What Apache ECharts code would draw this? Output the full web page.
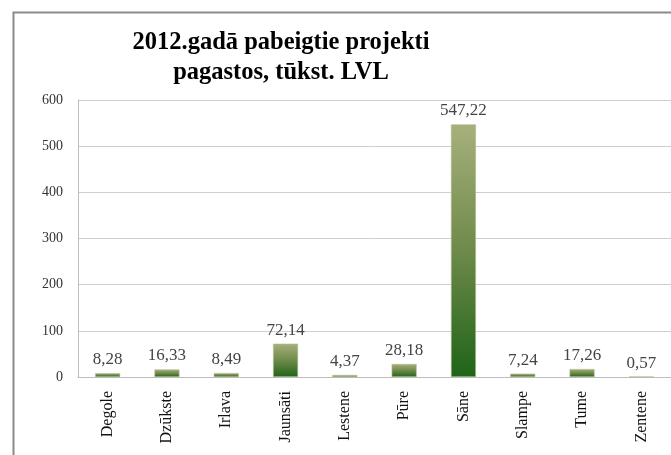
<!DOCTYPE html>
<html><head><meta charset="utf-8">
<script src="https://cdn.jsdelivr.net/npm/echarts@6/dist/echarts.min.js"></script>
<style>html,body{margin:0;padding:0;background:#fff}#c{width:671px;height:455px}</style>
</head><body><div id="c"></div>
<script>
const categories = ['Degole','Dzūkste','Irlava','Jaunsāti','Lestene','Pūre','Sāne','Slampe','Tume','Zentene'];
const values = [8.28, 16.33, 8.49, 72.14, 4.37, 28.18, 547.22, 7.24, 17.26, 0.57];
const yTicks = [0, 100, 200, 300, 400, 500, 600];
const titleLines = ['2012.gadā pabeigtie projekti', 'pagastos, tūkst. LVL'];

const serif = '"Liberation Serif","Times New Roman",serif';
const chart = echarts.init(document.getElementById('c'), null, {renderer: 'canvas'});
chart.setOption({
  animation: false,
  backgroundColor: '#fff',
  graphic: [{
    type: 'rect', shape: {x: 13.5, y: 12.5, width: 720, height: 500},
    style: {fill: 'none', stroke: '#8a8a8a', lineWidth: 2}, silent: true, z: -1
  }],
  title: {
    text: titleLines.join('\n'),
    left: 276, top: 23, textAlign: 'center',
    textStyle: {fontFamily: serif, fontSize: 24.5, fontWeight: 'bold', color: '#000', lineHeight: 30}
  },
  grid: {left: 78, right: -15, top: 100, bottom: 78, containLabel: false},
  xAxis: {
    type: 'category', data: categories,
    axisLine: {lineStyle: {color: '#bdbdbd', width: 1}},
    axisTick: {show: false},
    axisLabel: {rotate: 90, margin: 14, fontFamily: serif, fontSize: 16, color: '#111', interval: 0}
  },
  yAxis: {
    type: 'value', min: yTicks[0], max: yTicks[yTicks.length - 1], interval: 100,
    axisLine: {show: true, lineStyle: {color: '#bdbdbd'}},
    axisTick: {show: false},
    splitLine: {lineStyle: {color: '#cfcfcf'}},
    axisLabel: {margin: 15, fontFamily: serif, fontSize: 14, color: '#333'}
  },
  series: [{
    type: 'bar', data: values, barWidth: 25,
    itemStyle: {
      color: new echarts.graphic.LinearGradient(0, 0, 0, 1, [
        {offset: 0, color: '#a7b07c'},
        {offset: 0.5, color: '#6e8a4a'},
        {offset: 1, color: '#1f6418'}
      ]),
      borderColor: '#b4bb92', borderWidth: 0.6
    },
    label: {
      show: true, position: 'top', distance: 5,
      formatter: p => p.value.toFixed(2).replace('.', ','),
      fontFamily: serif, fontSize: 17, color: '#444'
    }
  }]
});
</script></body></html>
